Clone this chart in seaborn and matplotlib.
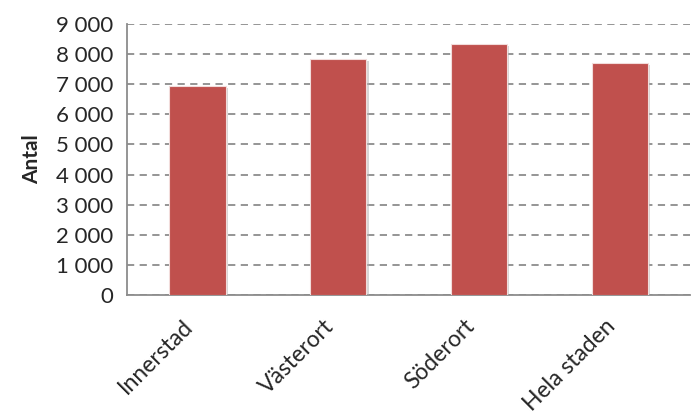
import matplotlib
matplotlib.use("Agg")
import matplotlib.pyplot as plt
import matplotlib.patheffects as pe
from matplotlib.ticker import FuncFormatter, FixedLocator
from matplotlib.transforms import ScaledTranslation
import seaborn as sns
import pandas as pd

categories = ["Innerstad", "Västerort", "Söderort", "Hela staden"]
values = [6950, 7830, 8340, 7700]
y_ticks = [0, 1000, 2000, 3000, 4000, 5000, 6000, 7000, 8000, 9000]

sns.set_style("white")
plt.rcParams['font.family'] = ['Lato', 'DejaVu Sans']

df = pd.DataFrame({"Område": categories, "Antal": values})

fig = plt.figure(figsize=(6.91, 4.16), dpi=100)
ax = fig.add_axes([0.184, 0.291, 0.815, 0.651])

sns.barplot(data=df, x="Område", y="Antal", color="#C0504D", saturation=1,
            width=0.4, ax=ax, zorder=3)
for p in ax.patches:
    p.set_edgecolor("#F2DCDB")
    p.set_linewidth(0.8)
    p.set_path_effects([pe.SimplePatchShadow(offset=(1.5, -1.5), shadow_rgbFace="#B0B0B0", alpha=0.5), pe.Normal()])

ax.set_ylim(0, 9000)
ax.set_xlim(-0.5, 3.5)
ax.yaxis.set_major_locator(FixedLocator(y_ticks))
ax.yaxis.set_major_formatter(FuncFormatter(lambda v, p: f"{int(v):,}".replace(",", " ")))
ax.grid(axis="y", color="#8C8C8C", linestyle=(0, (4, 3)), linewidth=1.3, zorder=0)
ax.set_axisbelow(True)

for s in ["top", "right"]:
    ax.spines[s].set_visible(False)
for s in ["left", "bottom"]:
    ax.spines[s].set_color("#8C8C8C")
    ax.spines[s].set_linewidth(1.3)

ax.set_xticks([0, 1, 2, 3])
ax.set_xticklabels(categories, rotation=45, ha="right", rotation_mode="anchor", fontsize=16.5)
ax.tick_params(axis="x", length=0, pad=15)
shift = ScaledTranslation(-0.15, 0, fig.dpi_scale_trans)
for lab in ax.get_xticklabels():
    lab.set_transform(lab.get_transform() + shift)
ax.set_xticks([-0.5, 0.5, 1.5, 2.5], minor=True)
ax.tick_params(axis="x", which="minor", length=6, width=1.3, color="#8C8C8C", direction="out")
ax.tick_params(axis="y", length=6, width=1.3, color="#8C8C8C", direction="out", labelsize=16, pad=4)

ax.set_xlabel("")
ax.set_ylabel("Antal", fontsize=15, fontweight="bold", labelpad=10)

fig.savefig("out.png", dpi=100)
